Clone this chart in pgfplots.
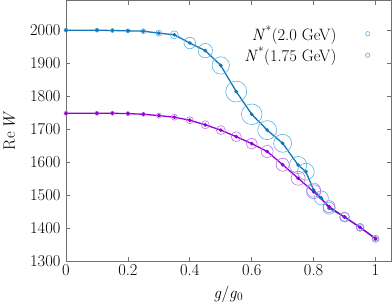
\documentclass[border=0pt]{standalone}
\usepackage{fontspec}
\usepackage{pgfplots}
\usepackage{pgfplotstable}
\pgfplotsset{compat=1.18}
\definecolor{bline}{HTML}{0F77B8}
\definecolor{bcirc}{HTML}{56B4E9}
\definecolor{pline}{HTML}{9400D3}
\definecolor{pcirc}{HTML}{C070E8}
\definecolor{axgray}{HTML}{707070}
\pgfplotstableread{
x y r
0 2000 2
0.1 2000 2
0.15 1999 2
0.2 1998 2
0.25 1997 2.5
0.3 1991 3
0.35 1986 4
0.4 1961 5.8
0.45 1938 7.2
0.5 1893 8.7
0.55 1814 10.5
0.6 1745 10.3
0.65 1697 9.5
0.7 1657 9
0.75 1591 8.6
0.775 1571 8.4
0.8 1515 7
0.825 1491 7
0.85 1460 6
0.9 1434 4.5
0.95 1402 3.5
1.0 1369 3
}\blue
\pgfplotstableread{
x y r
0 1748 2
0.1 1748 2
0.15 1748 2
0.2 1747 2
0.25 1745 2
0.3 1741 2.5
0.35 1736 3
0.4 1727 3.5
0.45 1713 4
0.5 1697 4.5
0.55 1677 5
0.6 1656 5.5
0.65 1632 6
0.7 1592 6.5
0.75 1551 7
0.8 1510 7
0.85 1465 6
0.9 1433 5
0.95 1402 4
1.0 1367 3.5
}\purple
\begin{document}
\begin{tikzpicture}
\begin{axis}[
  at={(0,0)}, anchor=south west,
  scale only axis, width=325pt, height=260.5pt,
  xmin=0, xmax=1.05, ymin=1300, ymax=2090,
  xtick={0,0.2,0.4,0.6,0.8,1}, ytick={1300,1400,1500,1600,1700,1800,1900,2000},
  minor tick num=0,
  tick align=inside, major tick length=4pt,
  axis line style={axgray, line width=0.8pt},
  every tick/.style={axgray, line width=0.8pt},
  /pgf/number format/1000 sep={},
  /pgf/number format/assume math mode=true,
  tick label style={font=\fontsize{16.5}{19}\selectfont},
  yticklabel style={xshift=-2pt},
  label style={font=\fontsize{16.5}{19}\selectfont},
  xlabel={\textit{g}/\textit{g}\textsubscript{0}}, ylabel={Re\,\textit{W}},
  xlabel style={yshift=-3pt},
  ylabel style={yshift=8pt},
  clip=true,
  legend plot pos=right, legend cell align=right,
  legend style={at={(rel axis cs:0.945,0.92)}, anchor=north east, draw=none, fill=none,
    font=\fontsize{16.5}{19}\selectfont, row sep=1pt},
]
\addlegendimage{only marks, mark=o, mark size=2.2pt, bcirc, mark options={line width=0.6pt}}
\addlegendentry{\textit{N}\textsuperscript{*}(2.0 GeV)\rule{27pt}{0pt}}
\addlegendimage{only marks, mark=o, mark size=2.2pt, pcirc, mark options={line width=0.6pt}}
\addlegendentry{\textit{N}\textsuperscript{*}(1.75 GeV)\rule{27pt}{0pt}}
\addplot[forget plot, scatter, only marks, mark=o, line width=0.6pt,
  point meta=\thisrow{r},
  visualization depends on={\thisrow{r} \as \rad},
  scatter/use mapped color={draw=bcirc},
  scatter/@pre marker code/.append style={/tikz/mark size=\rad pt}]
  table[x=x, y=y] {\blue};
\addplot[forget plot, scatter, only marks, mark=o, line width=0.6pt,
  point meta=\thisrow{r},
  visualization depends on={\thisrow{r} \as \rad},
  scatter/use mapped color={draw=pcirc},
  scatter/@pre marker code/.append style={/tikz/mark size=\rad pt}]
  table[x=x, y=y] {\purple};
\addplot[forget plot, bline, line width=1.3pt, mark=*, mark size=1.1pt] table[x=x, y=y] {\blue};
\addplot[forget plot, pline, line width=1.3pt, mark=*, mark size=1.1pt] table[x=x, y=y] {\purple};
\end{axis}
\pgfresetboundingbox
\path (-66pt,-47pt) rectangle (326pt,261pt);
\end{tikzpicture}
\end{document}
